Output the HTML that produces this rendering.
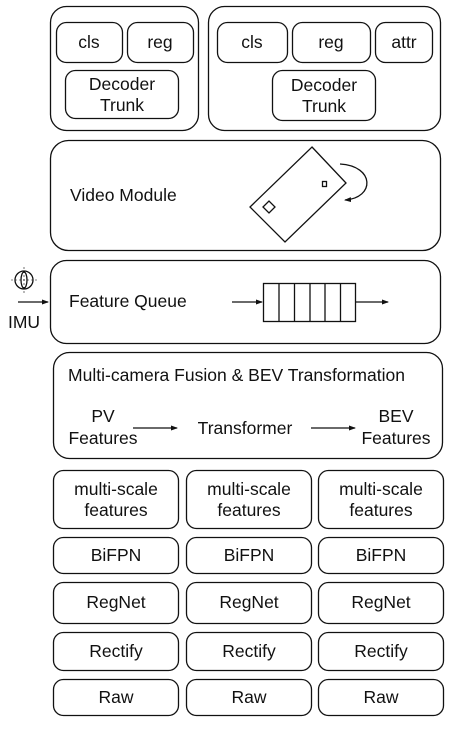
<!DOCTYPE html>
<html><head><style>
body{margin:0;background:#fff}
svg text{font-family:"Liberation Sans",sans-serif;font-size:17.5px;fill:#111}
</style></head><body>
<svg width="452" height="727" viewBox="0 0 452 727" xmlns="http://www.w3.org/2000/svg">
<defs><marker id="a" markerWidth="7" markerHeight="5" refX="6" refY="2.5" orient="auto" markerUnits="userSpaceOnUse"><path d="M0,0 L7,2.5 L0,5 z" fill="#111"/></marker></defs>
<g fill="none" stroke="#111" stroke-width="1.3">
<rect x="50.5" y="6.5" width="148" height="124" rx="16"/>
<rect x="56.5" y="22.5" width="66" height="40" rx="10"/>
<rect x="127.5" y="22.5" width="66" height="40" rx="10"/>
<rect x="65.5" y="70.5" width="113" height="48" rx="10"/>
<rect x="208.5" y="6.5" width="232" height="124" rx="16"/>
<rect x="217.5" y="22.5" width="70" height="40" rx="10"/>
<rect x="292.5" y="22.5" width="78" height="40" rx="10"/>
<rect x="375.5" y="22.5" width="57" height="40" rx="10"/>
<rect x="272.5" y="70.5" width="103" height="50" rx="10"/>
<rect x="50.5" y="140.5" width="390" height="110" rx="18"/>
<path d="M312,147 L346,183 L285,242 L250,207 Z"/>
<path d="M263,207 L269,201 L275,207 L269,213 Z"/>
<rect x="322.5" y="181.5" width="4" height="5"/>
<path d="M340,164 C375,166 375,198 345,200" marker-end="url(#a)"/>
<rect x="50.5" y="260.5" width="390" height="83" rx="16"/>
<path d="M18,302 L48,302" marker-end="url(#a)"/>
<path d="M232,302 L262,302" marker-end="url(#a)"/>
<path d="M356,302 L388,302" marker-end="url(#a)"/>
<rect x="263.5" y="283.5" width="92" height="38"/>
<path d="M279,283.5 V321.5 M294.5,283.5 V321.5 M310,283.5 V321.5 M325,283.5 V321.5 M340.5,283.5 V321.5"/>
<circle cx="24" cy="280" r="9"/>
<ellipse cx="24" cy="280" rx="3" ry="8"/>
<path d="M11,280 L37,280 M24,267 L24,293" stroke-width="0.6" stroke-dasharray="2 2"/>
<rect x="53.5" y="352.5" width="389" height="106" rx="16"/>
<path d="M133,428 L177,428" marker-end="url(#a)"/>
<path d="M311,428 L355,428" marker-end="url(#a)"/>
</g>
<g fill="none" stroke="#111" stroke-width="1.3">
<rect x="53.5" y="470.5" width="125" height="58" rx="10"/><rect x="186.5" y="470.5" width="125" height="58" rx="10"/><rect x="318.5" y="470.5" width="125" height="58" rx="10"/>
<rect x="53.5" y="537.5" width="125" height="36" rx="10"/><rect x="186.5" y="537.5" width="125" height="36" rx="10"/><rect x="318.5" y="537.5" width="125" height="36" rx="10"/>
<rect x="53.5" y="582.5" width="125" height="41" rx="10"/><rect x="186.5" y="582.5" width="125" height="41" rx="10"/><rect x="318.5" y="582.5" width="125" height="41" rx="10"/>
<rect x="53.5" y="632.5" width="125" height="38" rx="10"/><rect x="186.5" y="632.5" width="125" height="38" rx="10"/><rect x="318.5" y="632.5" width="125" height="38" rx="10"/>
<rect x="53.5" y="679.5" width="125" height="36" rx="10"/><rect x="186.5" y="679.5" width="125" height="36" rx="10"/><rect x="318.5" y="679.5" width="125" height="36" rx="10"/>
</g>
<g text-anchor="middle">
<text x="89" y="48">cls</text><text x="160" y="48">reg</text>
<text x="122" y="90">Decoder</text><text x="122" y="111">Trunk</text>
<text x="252" y="48">cls</text><text x="331" y="48">reg</text><text x="404" y="48">attr</text>
<text x="324" y="91">Decoder</text><text x="324" y="112">Trunk</text>
<text x="24" y="328" font-size="18">IMU</text>
<text x="103" y="422">PV</text><text x="103" y="444">Features</text>
<text x="245" y="434">Transformer</text>
<text x="396" y="422">BEV</text><text x="396" y="444">Features</text>
<text x="116" y="495">multi-scale</text><text x="116" y="516">features</text>
<text x="249" y="495">multi-scale</text><text x="249" y="516">features</text>
<text x="381" y="495">multi-scale</text><text x="381" y="516">features</text>
<text x="116" y="561">BiFPN</text><text x="249" y="561">BiFPN</text><text x="381" y="561">BiFPN</text>
<text x="116" y="608">RegNet</text><text x="249" y="608">RegNet</text><text x="381" y="608">RegNet</text>
<text x="116" y="657">Rectify</text><text x="249" y="657">Rectify</text><text x="381" y="657">Rectify</text>
<text x="116" y="703">Raw</text><text x="249" y="703">Raw</text><text x="381" y="703">Raw</text>
</g>
<text x="70" y="201">Video Module</text>
<text x="69" y="307">Feature Queue</text>
<text x="68" y="381" textLength="337" lengthAdjust="spacingAndGlyphs">Multi-camera Fusion &amp; BEV Transformation</text>
</svg>
</body></html>
